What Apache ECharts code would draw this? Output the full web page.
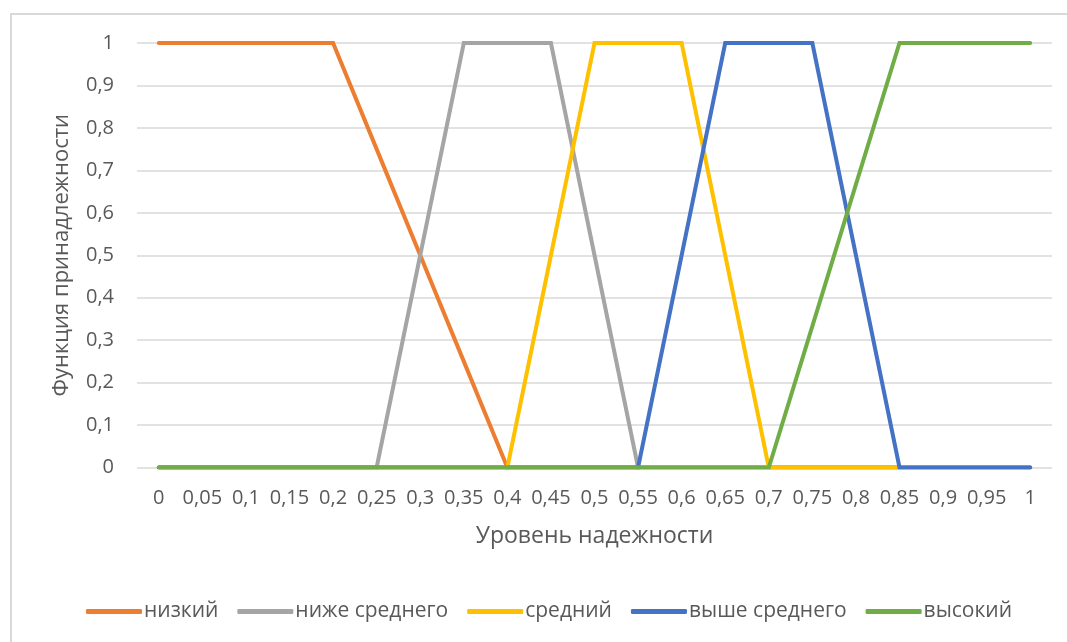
<!DOCTYPE html>
<html>
<head>
<meta charset="utf-8">
<script src="https://cdn.jsdelivr.net/npm/echarts@6/dist/echarts.min.js"></script>
<style>
  html, body { margin: 0; padding: 0; background: #fff; }
  #chart { width: 1067px; height: 642px; }
</style>
</head>
<body>
<div id="chart"></div>
<script>
// Reliability level (x categories)
const categories = ['0','0,05','0,1','0,15','0,2','0,25','0,3','0,35','0,4','0,45','0,5',
                    '0,55','0,6','0,65','0,7','0,75','0,8','0,85','0,9','0,95','1'];

// Membership functions of the linguistic terms
const low        = [1,1,1,1,1,0.75,0.5,0.25,0,0,0,0,0,0,0,0,0,0,0,0,0];
const belowMid   = [0,0,0,0,0,0,0.5,1,1,1,0.5,0,0,0,0,0,0,0,0,0,0];
const mid        = [0,0,0,0,0,0,0,0,0,0.5,1,1,1,0.5,0,0,0,0,0,0,0];
const aboveMid   = [0,0,0,0,0,0,0,0,0,0,0,0,0.5,1,1,1,0.5,0,0,0,0];
const high       = [0,0,0,0,0,0,0,0,0,0,0,0,0,0,0,0.333,0.667,1,1,1,1];

const yTicks = [0,0.1,0.2,0.3,0.4,0.5,0.6,0.7,0.8,0.9,1];

const seriesDefs = [
  { name: 'низкий',          data: low,      color: '#ED7D31' },
  { name: 'ниже среднего',   data: belowMid, color: '#A5A5A5' },
  { name: 'средний',         data: mid,      color: '#FFC000' },
  { name: 'выше среднего',   data: aboveMid, color: '#4472C4' },
  { name: 'высокий',         data: high,     color: '#70AD47' }
];

const FONT = 'Open Sans';
const TXT = '#595959';

const chart = echarts.init(document.getElementById('chart'), null, { renderer: 'canvas' });
chart.setOption({
  animation: false,
  backgroundColor: '#fff',
  textStyle: { fontFamily: FONT },
  graphic: [{
    type: 'rect',
    shape: { x: 11, y: 14, width: 2000, height: 2000 },
    style: { fill: 'none', stroke: '#d9d9d9', lineWidth: 2 },
    silent: true
  }],
  grid: { left: 137, right: 15, top: 43, bottom: 174.5, containLabel: false },
  legend: {
    top: 596,
    left: 81,
    itemWidth: 56,
    itemHeight: 5,
    itemGap: 19,
    icon: 'roundRect',
    textStyle: { color: TXT, fontSize: 21, fontFamily: FONT, padding: [0, 0, 0, -3] },
    data: seriesDefs.map(s => s.name)
  },
  xAxis: {
    type: 'category',
    data: categories,
    boundaryGap: true,
    name: 'Уровень надежности',
    nameLocation: 'middle',
    nameGap: 57,
    nameTextStyle: { color: TXT, fontSize: 23, fontFamily: FONT },
    axisLine: { show: false },
    axisTick: { show: false },
    axisLabel: { color: TXT, fontSize: 20, fontFamily: FONT, margin: 21, interval: 0 },
    splitLine: { show: false }
  },
  yAxis: {
    type: 'value',
    min: 0,
    max: 1,
    interval: 0.1,
    name: 'Функция принадлежности',
    nameLocation: 'middle',
    nameGap: 64,
    nameTextStyle: { color: TXT, fontSize: 22, fontFamily: FONT },
    axisLine: { show: false },
    axisTick: { show: false },
    axisLabel: {
      color: TXT, fontSize: 20, fontFamily: FONT, margin: 23,
      formatter: v => {
        const t = yTicks.find(k => Math.abs(k - v) < 1e-9);
        return String(Math.round((t !== undefined ? t : v) * 10) / 10).replace('.', ',');
      }
    },
    splitLine: { lineStyle: { color: '#d9d9d9', width: 1.5 } }
  },
  series: seriesDefs.map((s, i) => ({
    name: s.name,
    type: 'line',
    data: s.data,
    symbol: 'none',
    z: 2 + i,
    itemStyle: { color: s.color },
    lineStyle: { color: s.color, width: 4, cap: 'round', join: 'miter' }
  }))
});
</script>
</body>
</html>
